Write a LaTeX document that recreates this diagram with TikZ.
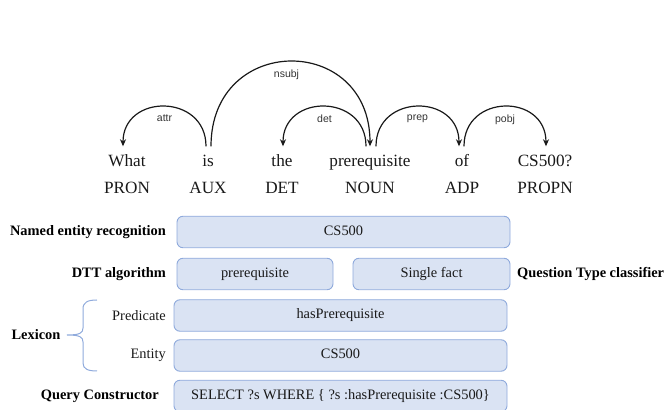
\documentclass[tikz,border=0pt]{standalone}
\usepackage{fontspec}
\setmainfont{Liberation Serif}
\newfontfamily\arcfont{Liberation Sans}
\usetikzlibrary{arrows.meta,positioning}
\definecolor{boxfill}{RGB}{218,227,243}
\definecolor{boxline}{RGB}{143,170,220}
\definecolor{inkgray}{RGB}{25,25,25}

\begin{document}
\begin{tikzpicture}[x=1pt,y=1pt,
  word/.style={font=\fontsize{17.2}{19}\selectfont,text=inkgray,text height=11.5pt,text depth=3.5pt,inner sep=2pt},
  arclabel/.style={font=\arcfont\fontsize{10.5}{12}\selectfont,text=black!80,inner sep=1pt},
  dep/.style={-{Stealth[length=7pt,width=6pt]},line width=1.2pt,black!90},
  stagebox/.style={draw=boxline,fill=boxfill,line width=0.9pt,rounded corners=6pt,minimum height=31.5pt,inner sep=0pt,
    font=\fontsize{14.4}{16}\selectfont,text=inkgray,text height=10pt,text depth=3pt},
  stagelabel/.style={font=\fontsize{14.4}{16}\selectfont\bfseries,text=black,inner sep=0pt},
  sublabel/.style={font=\fontsize{14.4}{16}\selectfont,text=inkgray,inner sep=0pt,anchor=east}
]
\useasboundingbox (0,0) rectangle (665,410);

% words and their tags
\node[word] (what) at (127,247) {What};
\node[word] (is) at (208,247) {is};
\node[word] (the) at (282,247) {the};
\node[word] (prereq) at (370,247) {prerequisite};
\node[word] (of) at (462,247) {of};
\node[word] (cs) at (545,247) {CS500?};
\node[word] (pron) at (127,220) {PRON};
\node[word] (aux) at (208,220) {AUX};
\node[word] (det) at (282,220) {DET};
\node[word] (noun) at (370,220) {NOUN};
\node[word] (adp) at (462,220) {ADP};
\node[word] (propn) at (545,220) {PROPN};

% dependency arcs
\draw[dep] ([xshift=-2pt,yshift=7pt]is.north) .. controls +(0,53) and +(0,53) .. ([xshift=-4pt,yshift=7pt]what.north)
  node[midway,below=7pt,arclabel] {attr};
\draw[dep] ([xshift=3pt,yshift=7pt]is.north) .. controls +(0,113) and +(0,113) .. ([yshift=7pt]prereq.north)
  node[midway,below=7pt,arclabel,xshift=-4pt] {nsubj};
\draw[dep] ([xshift=-4pt,yshift=7pt]prereq.north) .. controls +(0,53) and +(0,53) .. ([xshift=1pt,yshift=7pt]the.north)
  node[midway,below=7pt,arclabel] {det};
\draw[dep] ([xshift=6pt,yshift=7pt]prereq.north) .. controls +(0,53) and +(0,53) .. ([xshift=-3pt,yshift=7pt]of.north)
  node[midway,below=7pt,arclabel] {prep};
\draw[dep] ([xshift=2pt,yshift=7pt]of.north) .. controls +(0,53) and +(0,53) .. ([xshift=1pt,yshift=7pt]cs.north)
  node[midway,below=7pt,arclabel] {pobj};

% pipeline stages
\node[stagebox,minimum width=333pt] (ner) at (343.5,178) {CS500};
\node[stagebox,minimum width=156pt] (dtt) at (255,136) {prerequisite};
\node[stagebox,minimum width=157pt] (qtype) at (431.5,136) {Single fact};
\node[stagebox,minimum width=333pt] (pred) at (340.5,94.5) {hasPrerequisite};
\node[stagebox,minimum width=333pt] (ent) at (340.5,54.5) {CS500};
\node[stagebox,minimum width=333pt] (query) at (340.5,14) {SELECT ?s WHERE \{ ?s :hasPrerequisite :CS500\}};

\node[stagelabel,anchor=east] (nerlab) at (166,178) {Named entity recognition};
\node[stagelabel,anchor=east] (dttlab) at (166,136) {DTT algorithm};
\node[stagelabel,anchor=west] (qtypelab) at (517,136) {Question Type classifier};
\node[sublabel] (predlab) at (166,94.5) {Predicate};
\node[sublabel] (entlab) at (166,54.5) {Entity};
\node[stagelabel,anchor=east] (querylab) at (159,14) {Query Constructor};
\node[stagelabel] (lexicon) at (36,75) {Lexicon};

% brace for the lexicon
\draw[boxline,line width=1pt] (97,110) .. controls (88,110) and (83,108) .. (83,101) -- (83,82)
  .. controls (83,77) and (80,75) .. (67,75)
  .. controls (80,75) and (83,73) .. (83,68) -- (83,47)
  .. controls (83,41) and (88,39) .. (97,39);
\end{tikzpicture}
\end{document}
